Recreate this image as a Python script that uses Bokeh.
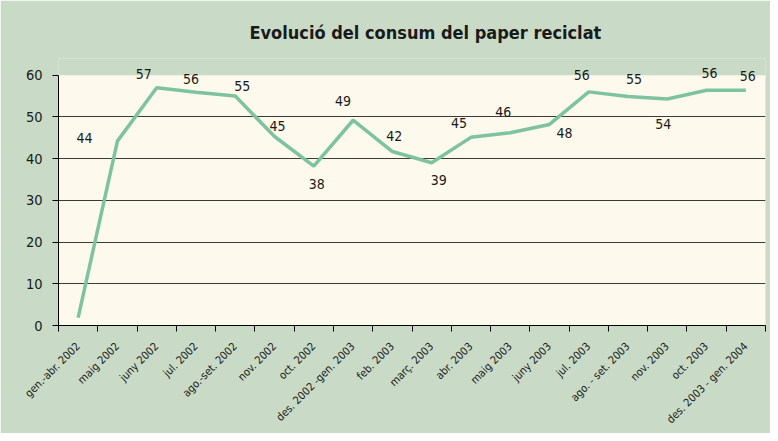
import math
from bokeh.plotting import figure
from bokeh.models import FixedTicker, ColumnDataSource, Range1d, LabelSet, BoxAnnotation
from bokeh.core.properties import value
from bokeh.embed import file_html
from bokeh.resources import INLINE

# ---- data ----
categories = [
    "gen.-abr. 2002", "maig 2002", "juny 2002", "jul. 2002", "ago.-set. 2002",
    "nov. 2002", "oct. 2002", "des. 2002 -gen. 2003", "feb. 2003", "març. 2003",
    "abr. 2003", "maig 2003", "juny 2003", "jul. 2003", "ago. - set. 2003",
    "nov. 2003", "oct. 2003", "des. 2003 - gen. 2004",
]
consum = [1.9, 44.2, 57.0, 55.9, 55.0, 45.3, 38.2, 49.2, 41.7, 39.0,
          45.1, 46.2, 48.2, 56.0, 54.9, 54.3, 56.4, 56.4]
y_ticks = [0, 10, 20, 30, 40, 50, 60]

# label placement (screen pixels, relative to each point; +dy = down); first point unlabeled
label_dx = [None, -33, -13, -5, 7, 3, 3, -10, 2, 7, -12, -7, 15, -7, 6, -4, 3, 2]
label_dy = [None, -3, -14, -13, -10, -11, 18, -19, -16, 17, -14, -21, 9, -17, -17, 25, -17, -14]

FONT = "'DejaVu Sans Condensed', sans-serif"
GREEN_BG = "#c9dbc7"
CREAM = "#fdf9ec"

n = len(categories)
xs = [i + 0.5 for i in range(n)]
y_top = y_ticks[-1]

p = figure(width=770, height=433, output_backend="svg", toolbar_location=None,
           x_range=Range1d(0, n), y_range=Range1d(0, 64),
           min_border_left=58, min_border_right=5, min_border_top=58,
           min_border_bottom=104,
           title="Evolució del consum del paper reciclat")

p.background_fill_color = GREEN_BG
p.border_fill_color = GREEN_BG
p.outline_line_color = None

# cream plot area from 0 to 60
p.add_layout(BoxAnnotation(bottom=0, top=y_top, fill_color=CREAM, fill_alpha=1,
                           line_color=None, level="image"))

p.title.align = "left"
p.title.offset = 191
p.title.standoff = 32
p.title.text_font = FONT
p.title.text_font_size = "18px"
p.title.text_font_style = "bold"
p.title.text_color = "#1a1a1a"

# grid
p.xgrid.grid_line_color = None
p.ygrid.ticker = FixedTicker(ticks=y_ticks[1:-1])
p.ygrid.grid_line_color = "#3a3a3a"
p.ygrid.grid_line_width = 1

# y axis
p.yaxis.ticker = FixedTicker(ticks=y_ticks)
p.yaxis.bounds = (0, y_top)
p.yaxis.axis_line_color = "#000000"
p.yaxis.major_tick_line_color = "#000000"
p.yaxis.major_tick_out = 6
p.yaxis.major_tick_in = 0
p.yaxis.minor_tick_line_color = None
p.yaxis.major_label_standoff = 10
p.yaxis.major_label_text_font = FONT
p.yaxis.major_label_text_font_size = "14.5px"
p.yaxis.major_label_text_color = "#1a1a1a"

# x axis
p.xaxis.ticker = FixedTicker(ticks=xs, minor_ticks=list(range(n + 1)))
p.xaxis.major_label_overrides = {x: c for x, c in zip(xs, categories)}
p.xaxis.axis_line_color = "#000000"
p.xaxis.major_tick_out = 0
p.xaxis.major_tick_in = 0
p.xaxis.minor_tick_line_color = "#000000"
p.xaxis.minor_tick_out = 6
p.xaxis.minor_tick_in = 0
p.xaxis.major_label_orientation = math.pi / 4
p.xaxis.major_label_standoff = 13
p.xaxis.major_label_text_font = FONT
p.xaxis.major_label_text_font_size = "11px"
p.xaxis.major_label_text_color = "#1a1a1a"

# line
p.line(xs, consum, line_color="#7dc3a0", line_width=3.5)

# data labels
lab = ColumnDataSource(dict(
    x=xs[1:], y=consum[1:],
    t=[str(round(v)) for v in consum[1:]],
    dx=label_dx[1:], dy=[-d for d in label_dy[1:]],
))
p.add_layout(LabelSet(x="x", y="y", text="t", x_offset="dx", y_offset="dy", source=lab,
                      text_align="center", text_baseline="middle",
                      text_font=value(FONT), text_font_size=value("14px"),
                      text_color="#1a1a1a"))

open("out.html", "w").write(file_html(p, INLINE))
